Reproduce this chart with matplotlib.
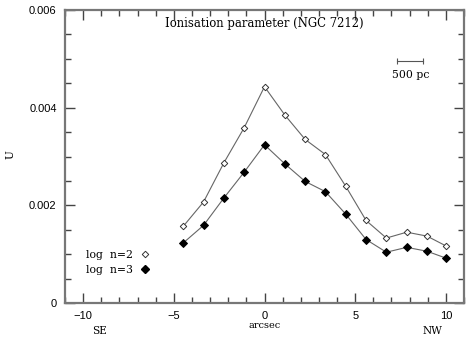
import matplotlib
matplotlib.use("Agg")
import matplotlib.pyplot as plt
from matplotlib.ticker import MultipleLocator

x_pos = [-4.48, -3.36, -2.24, -1.12, 0.0, 1.12, 2.24, 3.36, 4.48, 5.6, 6.72, 7.84, 8.96, 10.0]
u_n2 = [0.00157, 0.00207, 0.00287, 0.00359, 0.00443, 0.00385, 0.00335, 0.00304,
        0.00239, 0.00169, 0.00133, 0.00145, 0.00137, 0.00117]
u_n3 = [0.00123, 0.00159, 0.00215, 0.00268, 0.00324, 0.00285, 0.00249, 0.00228,
        0.00182, 0.00130, 0.00104, 0.00114, 0.00106, 0.00092]
x_ticks = [-10, -5, 0, 5, 10]
y_ticks = [0, 0.002, 0.004, 0.006]
y_tick_labels = ["0", "0.002", "0.004", "0.006"]

fig = plt.figure(figsize=(4.69, 3.38), dpi=100)
ax = fig.add_axes([65/469, 1 - 303/338, (464-65)/469, (303-10)/338])

line_c = "#666666"
ax.plot(x_pos, u_n2, color=line_c, lw=0.8, marker="D", ms=3.3,
        mfc="white", mec="#333333", mew=0.7)
ax.plot(x_pos, u_n3, color=line_c, lw=0.8, marker="D", ms=3.6,
        mfc="black", mec="black", mew=0.7)

ax.set_xlim(-11, 11)
ax.set_ylim(0, 0.006)
ax.set_xticks(x_ticks)
ax.set_xticklabels(["\u221210", "\u22125", "0", "5", "10"])
ax.set_yticks(y_ticks)
ax.set_yticklabels(y_tick_labels)
ax.xaxis.set_minor_locator(MultipleLocator(1))
ax.yaxis.set_minor_locator(MultipleLocator(0.0005))
ax.tick_params(which="both", direction="in", top=True, right=True,
               colors="#444444", labelcolor="black", width=1.0)
ax.tick_params(which="major", length=7, labelsize=8, pad=6)
ax.tick_params(which="minor", length=4)
for lbl in ax.get_xticklabels() + ax.get_yticklabels():
    lbl.set_family("Liberation Sans")
for s in ax.spines.values():
    s.set_color("#777777")
    s.set_linewidth(1.6)

serif = "DejaVu Serif"
ax.text(0, 0.00585, "Ionisation parameter (NGC 7212)", ha="center", va="top",
        family=serif, fontsize=8.4)
fig.text(5/469, 1 - 155/338, "U", rotation=90, ha="left", va="center",
         family=serif, fontsize=7.6)
fig.text(265/469, 1 - 325/338, "arcsec", ha="center", va="center",
         family=serif, fontsize=7)
fig.text(100/469, 1 - 331/338, "SE", ha="center", va="center",
         family=serif, fontsize=7.6)
fig.text(432/469, 1 - 331/338, "NW", ha="center", va="center",
         family=serif, fontsize=7.6)

# scale bar
ax.plot([7.3, 8.75], [0.00495, 0.00495], color="#555555", lw=0.8,
        marker="|", ms=4, mew=0.8)
ax.text(8.05, 0.00467, "500 pc", ha="center", va="center", family=serif, fontsize=7.8)

# legend
ax.text(-9.83, 0.00098, "log  n=2", ha="left", va="center", family=serif, fontsize=7.8)
ax.text(-9.83, 0.00068, "log  n=3", ha="left", va="center", family=serif, fontsize=7.8)
ax.plot([-6.57], [0.000995], marker="D", ms=3.3, mfc="white", mec="#333333", mew=0.7)
ax.plot([-6.57], [0.00069], marker="D", ms=3.6, mfc="black", mec="black")

fig.savefig("out.png", dpi=100)
